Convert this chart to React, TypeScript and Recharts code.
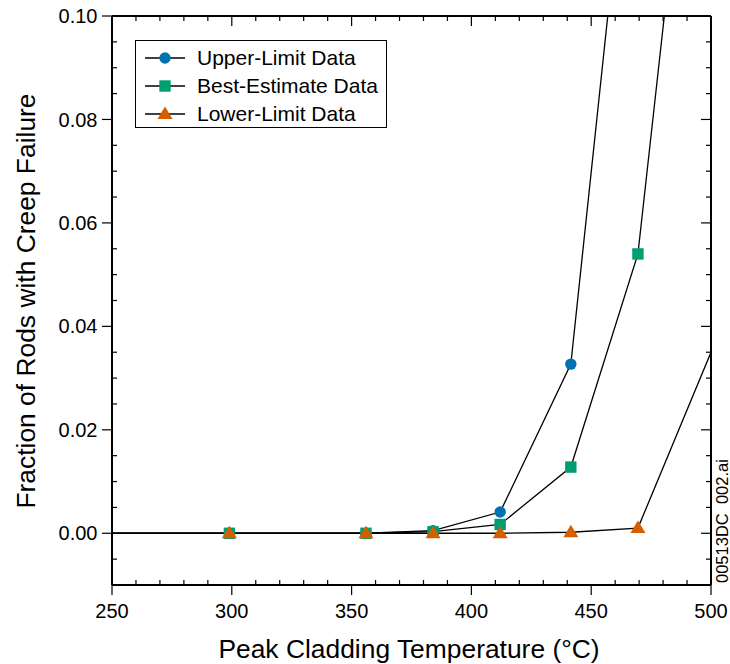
import React from 'react';
import { LineChart, Line, XAxis, YAxis, Legend } from 'recharts';

// ---- Data ----
const xMajorTicks = [250, 300, 350, 400, 450, 500];
const xAllTicks = [250, 260, 270, 280, 290, 300, 310, 320, 330, 340, 350, 360, 370, 380, 390, 400, 410, 420, 430, 440, 450, 460, 470, 480, 490, 500];
const yMajorTicks = [0, 0.02, 0.04, 0.06, 0.08, 0.1];
const yAllTicks = [-0.005, 0, 0.005, 0.01, 0.015, 0.02, 0.025, 0.03, 0.035, 0.04, 0.045, 0.05, 0.055, 0.06, 0.065, 0.07, 0.075, 0.08, 0.085, 0.09, 0.095, 0.1];

const upperTemp = [240, 299, 356, 384, 412, 441.5, 469.5];
const upperFrac = [0, 0, 0, 0.0005, 0.0041, 0.0327, 0.155];
const bestTemp = [240, 299, 356, 384, 412, 441.5, 469.5, 498];
const bestFrac = [0, 0, 0, 0.0003, 0.0017, 0.0128, 0.054, 0.173];
const lowerTemp = [240, 299, 356, 384, 412, 441.5, 469.5, 526];
const lowerFrac = [0, 0, 0, 0, 0, 0.0002, 0.001, 0.064];

const seriesNames = ['Upper-Limit Data', 'Best-Estimate Data', 'Lower-Limit Data'];
const seriesColors = ['#0072B2', '#009E73', '#D55E00'];

const xTitle = 'Peak Cladding Temperature (\u00b0C)';
const yTitle = 'Fraction of Rods with Creep Failure';
const fileTag = '00513DC\u00a0\u00a0002.ai';

const toRows = (ts: number[], fs: number[]) => ts.map((t, i) => ({ t, f: fs[i] }));
const upperData = toRows(upperTemp, upperFrac);
const bestData = toRows(bestTemp, bestFrac);
const lowerData = toRows(lowerTemp, lowerFrac);

const FONT = '"Liberation Sans", Arial, Helvetica, sans-serif';
const MAJOR = 10;
const MINOR = 5;
const TICK_STROKE = { stroke: '#000', strokeWidth: 1.2 };

const isMajorX = (v: number) => xMajorTicks.some((m) => Math.abs(m - v) < 1e-9);
const isMajorY = (v: number) => yMajorTicks.some((m) => Math.abs(m - v) < 1e-9);

const BottomTick = (props: any) => {
  const { x, y, payload } = props;
  const v = payload.value;
  const major = isMajorX(v);
  return (
    <g>
      <line x1={x} x2={x} y1={y} y2={major ? y + MAJOR : y - MINOR} {...TICK_STROKE} />
      {major && (
        <text x={x} y={y + 19} dy="0.71em" textAnchor="middle" fontSize={20} fontFamily={FONT} fill="#000">
          {v}
        </text>
      )}
    </g>
  );
};

const TopTick = (props: any) => {
  const { x, y, payload } = props;
  const major = isMajorX(payload.value);
  return <line x1={x} x2={x} y1={y} y2={y + (major ? MAJOR : MINOR)} {...TICK_STROKE} />;
};

const LeftTick = (props: any) => {
  const { x, y, payload } = props;
  const v = payload.value;
  const major = isMajorY(v);
  return (
    <g>
      <line y1={y} y2={y} x1={x} x2={major ? x - MAJOR : x + MINOR} {...TICK_STROKE} />
      {major && (
        <text x={x - 14.5} y={y} dy="0.355em" textAnchor="end" fontSize={20} fontFamily={FONT} fill="#000">
          {v.toFixed(2)}
        </text>
      )}
    </g>
  );
};

const RightTick = (props: any) => {
  const { x, y, payload } = props;
  const major = isMajorY(payload.value);
  return <line y1={y} y2={y} x1={x} x2={x - (major ? MAJOR : MINOR)} {...TICK_STROKE} />;
};

const renderCircle = (p: any) => (
  <circle key={`c-${p.index}`} cx={p.cx} cy={p.cy} r={5.7} fill={seriesColors[0]} />
);
const renderSquare = (p: any) => (
  <rect key={`s-${p.index}`} x={p.cx - 5.7} y={p.cy - 5.7} width={11.4} height={11.4} fill={seriesColors[1]} />
);
const renderTriangle = (p: any) => (
  <path
    key={`t-${p.index}`}
    d={`M${p.cx},${p.cy - 7.5}L${p.cx + 7.5},${p.cy + 5}L${p.cx - 7.5},${p.cy + 5}Z`}
    fill={seriesColors[2]}
  />
);

const LegendSymbol = ({ kind }: { kind: number }) => (
  <svg width={44} height={16} style={{ display: 'block' }}>
    <line x1={0} x2={40} y1={8} y2={8} stroke="#000" strokeWidth={1.3} />
    {kind === 0 && <circle cx={20} cy={8} r={5.7} fill={seriesColors[0]} />}
    {kind === 1 && <rect x={14.3} y={2.3} width={11.4} height={11.4} fill={seriesColors[1]} />}
    {kind === 2 && <path d="M20,0.5L27.5,13L12.5,13Z" fill={seriesColors[2]} />}
  </svg>
);

const renderLegend = () => (
  <div
    style={{
      boxSizing: 'border-box',
      width: 252,
      height: 88,
      border: '1.5px solid #000',
      background: '#fff',
      paddingTop: 2.5,
      fontFamily: FONT,
      fontSize: 21,
      color: '#000',
    }}
  >
    {seriesNames.map((n, i) => (
      <div key={n} style={{ display: 'flex', alignItems: 'center', height: 28 }}>
        <div style={{ marginLeft: 9, width: 52 }}>
          <LegendSymbol kind={i} />
        </div>
        <span style={{ whiteSpace: 'nowrap', lineHeight: '21px' }}>{n}</span>
      </div>
    ))}
  </div>
);

const xTitleLabel = () => (
  <text x={409} y={658} textAnchor="middle" fontSize={26.4} fontFamily={FONT} fill="#000">
    {xTitle}
  </text>
);
const yTitleLabel = () => (
  <text x={35} y={301} transform="rotate(-90 35 301)" textAnchor="middle" fontSize={26.4} fontFamily={FONT} fill="#000">
    {yTitle}
  </text>
);
const tagLabel = () => (
  <text x={728} y={583} transform="rotate(-90 728 583)" textAnchor="start" fontSize={16.5} fontFamily={FONT} fill="#000" style={{ whiteSpace: 'pre' }}>
    {fileTag}
  </text>
);

const AXIS_LINE = { stroke: '#000', strokeWidth: 2 };

export default function App() {
  return (
    <div style={{ position: 'absolute', left: 0, top: 0, width: 730, height: 664, background: '#fff' }}>
      <LineChart width={730} height={664} margin={{ top: 0, right: 0, bottom: 0, left: 0 }}>
        <XAxis
          xAxisId="bottom"
          orientation="bottom"
          dataKey="t"
          type="number"
          domain={[250, 500]}
          allowDataOverflow
          ticks={xAllTicks}
          interval={0}
          height={79}
          tickSize={0}
          tickMargin={0}
          tickLine={false}
          axisLine={AXIS_LINE}
          tick={<BottomTick />}
          label={xTitleLabel}
        />
        <XAxis
          xAxisId="top"
          orientation="top"
          dataKey="t"
          type="number"
          domain={[250, 500]}
          allowDataOverflow
          ticks={xAllTicks}
          interval={0}
          height={16}
          tickSize={0}
          tickMargin={0}
          tickLine={false}
          axisLine={AXIS_LINE}
          tick={<TopTick />}
        />
        <YAxis
          yAxisId="left"
          orientation="left"
          type="number"
          domain={[-0.01, 0.1]}
          allowDataOverflow
          ticks={yAllTicks}
          interval={0}
          width={112}
          tickSize={0}
          tickMargin={0}
          tickLine={false}
          axisLine={AXIS_LINE}
          tick={<LeftTick />}
          label={yTitleLabel}
        />
        <YAxis
          yAxisId="right"
          orientation="right"
          type="number"
          domain={[-0.01, 0.1]}
          allowDataOverflow
          ticks={yAllTicks}
          interval={0}
          width={19}
          tickSize={0}
          tickMargin={0}
          tickLine={false}
          axisLine={AXIS_LINE}
          tick={<RightTick />}
          label={tagLabel}
        />
        <Legend
          layout="horizontal"
          verticalAlign="middle"
          align="center"
          content={renderLegend}
          wrapperStyle={{ left: 135, top: 40, width: 252, height: 88 }}
        />
        <Line
          xAxisId="bottom"
          yAxisId="left"
          data={upperData}
          dataKey="f"
          name={seriesNames[0]}
          stroke="#000"
          strokeWidth={1.3}
          dot={renderCircle}
          activeDot={false}
          isAnimationActive={false}
        />
        <Line
          xAxisId="bottom"
          yAxisId="left"
          data={bestData}
          dataKey="f"
          name={seriesNames[1]}
          stroke="#000"
          strokeWidth={1.3}
          dot={renderSquare}
          activeDot={false}
          isAnimationActive={false}
        />
        <Line
          xAxisId="bottom"
          yAxisId="left"
          data={lowerData}
          dataKey="f"
          name={seriesNames[2]}
          stroke="#000"
          strokeWidth={1.3}
          dot={renderTriangle}
          activeDot={false}
          isAnimationActive={false}
        />
      </LineChart>
    </div>
  );
}
